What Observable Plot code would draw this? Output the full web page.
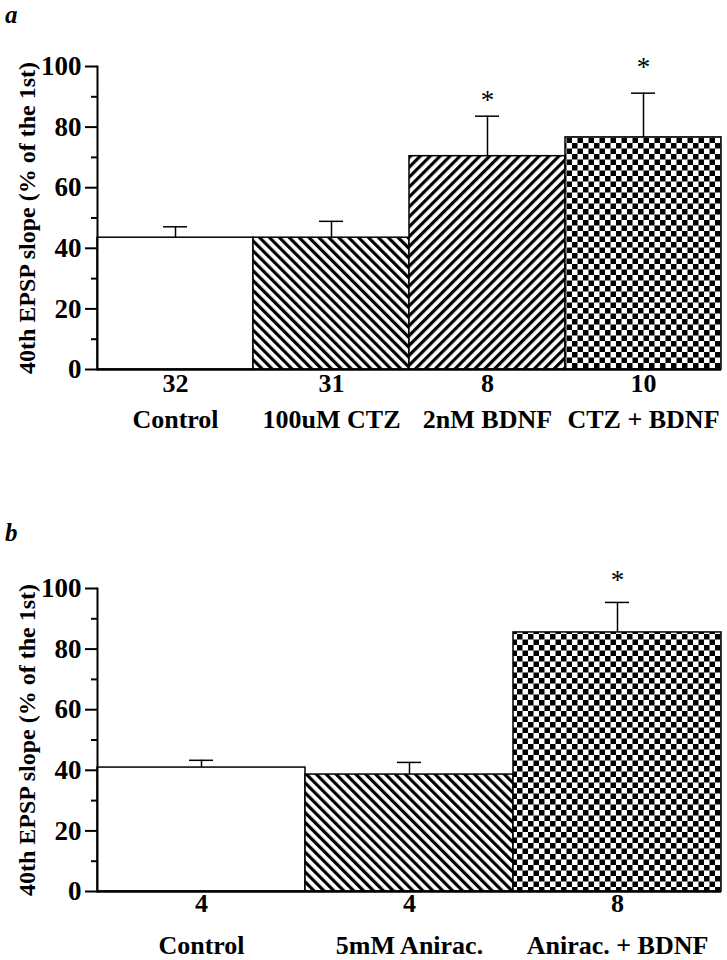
<!DOCTYPE html>
<html><head><meta charset="utf-8">
<script src="https://cdn.jsdelivr.net/npm/d3@7"></script>
<script src="https://cdn.jsdelivr.net/npm/@observablehq/plot@0.6"></script>
<style>
body{margin:0;background:#fff;}
#wrap{position:relative;width:727px;height:960px;font-family:"Liberation Serif",serif;overflow:hidden;}
.plabel{position:absolute;left:5px;font-weight:bold;font-style:italic;font-size:25px;line-height:1.2;}
.panel{position:absolute;left:0;}
</style></head><body>
<div id="wrap">
<div class="panel" id="pa" style="top:0px"></div>
<div class="panel" id="pb" style="top:480px"></div>
<div class="plabel" style="top:0px">a</div>
<div class="plabel" style="top:518px">b</div>
</div>
<script>
// ---- data ----
const yTitle = "40th EPSP slope (% of the 1st)";
const majorTicks = [0, 20, 40, 60, 80, 100];
const minorTicks = [10, 30, 50, 70, 90];

const groupsA = ["Control", "100uM CTZ", "2nM BDNF", "CTZ + BDNF"];
const meansA = [43.5, 43.5, 70.4, 76.6];
const semsA = [3.6, 5.4, 13.2, 14.6];
const nA = [32, 31, 8, 10];
const starA = [null, null, 88.8, 99.7];

const groupsB = ["Control", "5mM Anirac.", "Anirac. + BDNF"];
const meansB = [40.9, 38.6, 85.5];
const semsB = [2.4, 4.0, 9.9];
const nB = [4, 4, 8];
const starB = [null, null, 102.6];

// ---- styles ----
const patternOf = {
  "Control": "white",
  "100uM CTZ": "back",
  "2nM BDNF": "fwd",
  "CTZ + BDNF": "check",
  "5mM Anirac.": "back",
  "Anirac. + BDNF": "check"
};

function defsMark(pid) {
  return () => {
    const defs = d3.create("svg:defs");
    const mk = (id, angle) => {
      const p = defs.append("pattern").attr("id", `${pid}-${id}`)
        .attr("patternUnits", "userSpaceOnUse").attr("width", 7).attr("height", 7)
        .attr("patternTransform", `rotate(${angle})`);
      p.append("rect").attr("width", 7).attr("height", 7).attr("fill", "white");
      p.append("rect").attr("width", 3.2).attr("height", 7).attr("fill", "black");
    };
    mk("back", -45);
    mk("fwd", 45);
    const s = 5.5;
    const c = defs.append("pattern").attr("id", `${pid}-check`)
      .attr("patternUnits", "userSpaceOnUse").attr("width", 2 * s).attr("height", 2 * s);
    c.append("rect").attr("width", 2 * s).attr("height", 2 * s).attr("fill", "white");
    c.append("rect").attr("width", s).attr("height", s).attr("fill", "black");
    c.append("rect").attr("x", s).attr("y", s).attr("width", s).attr("height", s).attr("fill", "black");
    return defs.node();
  };
}

function panel({groups, means, sems, ns, stars, pid, width, height, mt, mb, nDy, nameDy}) {
  const rows = groups.map((g, i) => ({
    g, mean: means[i], top: means[i] + sems[i], n: ns[i], star: stars[i],
    fill: patternOf[g] === "white" ? "white" : `url(#${pid}-${patternOf[g]})`
  }));
  const ml = 97, mr = 6;
  const bw = (width - ml - mr) / groups.length;
  const capInset = (bw - 24) / 2;
  return Plot.plot({
    width, height, marginLeft: ml, marginRight: mr, marginTop: mt, marginBottom: mb,
    style: {fontFamily: "'Liberation Serif', serif", fontWeight: "bold", fontSize: "24px", color: "black", background: "white", overflow: "visible"},
    x: {domain: groups, padding: 0, axis: null},
    y: {domain: [0, 100]},
    color: {type: "identity"},
    marks: [
      defsMark(pid),
      Plot.barY(rows, {x: "g", y: "mean", fill: "fill", stroke: "black", strokeWidth: 1.5}),
      Plot.ruleX(rows, {x: "g", y1: "mean", y2: "top", stroke: "black", strokeWidth: 1.5}),
      Plot.tickY(rows, {x: "g", y: "top", stroke: "black", strokeWidth: 1.5, insetLeft: capInset, insetRight: capInset}),
      Plot.text(rows.filter(d => d.star != null), {x: "g", y: "star", text: () => "*", fontSize: 27, fontWeight: "normal"}),
      Plot.text(rows, {x: "g", y: 0, text: d => String(d.n), dy: nDy, fontSize: 26}),
      Plot.text(rows, {x: "g", y: 0, text: "g", dy: nameDy, fontSize: 26}),
      Plot.axisY({ticks: majorTicks, tickSize: 12, strokeWidth: 2, tickFormat: () => "",
        label: yTitle, labelAnchor: "center", labelArrow: "none", labelOffset: 80}),
      Plot.text(majorTicks, {y: d => d, frameAnchor: "left", dx: -16, textAnchor: "end", fontSize: 27, text: d => String(d)}),
      Plot.axisY({ticks: minorTicks, tickSize: 6, strokeWidth: 2, tickFormat: () => "", label: null}),
      Plot.frame({anchor: "left", strokeWidth: 2}),
      Plot.ruleY([0], {strokeWidth: 2.5})
    ]
  });
}

document.getElementById("pa").append(panel({
  groups: groupsA, means: meansA, sems: semsA, ns: nA, stars: starA, pid: "pa",
  width: 727, height: 440, mt: 66, mb: 71, nDy: 14, nameDy: 50
}));
document.getElementById("pb").append(panel({
  groups: groupsB, means: meansB, sems: semsB, ns: nB, stars: starB, pid: "pb",
  width: 727, height: 480, mt: 108, mb: 69, nDy: 12, nameDy: 54
}));
</script>
</body></html>
